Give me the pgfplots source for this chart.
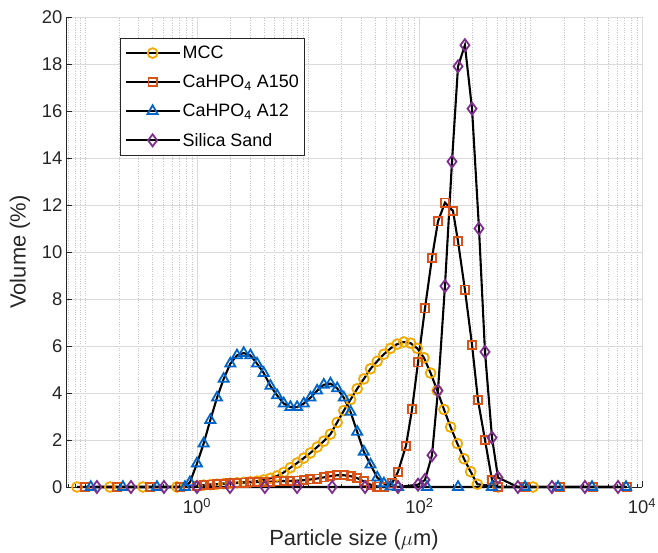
\documentclass[border=0pt]{standalone}
\usepackage{pgfplots}
\pgfplotsset{compat=1.18}
\usepackage{fontspec}
\setmainfont{Liberation Sans}
\definecolor{mcc}{RGB}{242,169,0}
\definecolor{aone}{RGB}{217,83,25}
\definecolor{atwo}{RGB}{0,100,200}
\definecolor{sand}{RGB}{126,47,142}
\definecolor{axgray}{RGB}{38,38,38}
\begin{document}
\begin{tikzpicture}
\useasboundingbox (0,0) rectangle (658bp,553bp);
\begin{axis}[
  at={(66bp,66bp)}, anchor=south west,
  scale only axis, width=576bp, height=470bp,
  xmode=log, xmin=0.0665, xmax=10000, ymin=0, ymax=20,
  ytick={0,2,...,20},
  xtick={1,100,10000},
  xticklabels={10\textsuperscript{0},10\textsuperscript{2},10\textsuperscript{4}},
  minor xtick={0.07,0.08,0.09,0.1,0.2,0.3,0.4,0.5,0.6,0.7,0.8,0.9,2,3,4,5,6,7,8,9,10,20,30,40,50,60,70,80,90,200,300,400,500,600,700,800,900,1000,2000,3000,4000,5000,6000,7000,8000,9000},
  xmajorgrids, xminorgrids, ymajorgrids,
  major grid style={draw=black!14, line width=0.6bp},
  minor grid style={draw=black!22, dotted, line width=0.6bp},
  axis lines*=left, axis line style={draw=axgray, line width=0.7bp, -},
  tick style={draw=axgray, line width=0.7bp},
  major tick length=6bp, minor tick length=3bp,
  tick align=inside,
  clip=false,
  /pgf/number format/assume math mode=true,
  tick label style={font=\fontsize{18.5}{19}\selectfont, text=axgray},
  xticklabel style={yshift=-8bp},
  xlabel={Particle size ($\mu$m)}, ylabel={Volume (\%)},
  label style={font=\fontsize{22}{23}\selectfont, text=axgray},
  xlabel style={at={(axis description cs:0.5,-0.1128)}, anchor=center},
  ylabel style={at={(axis description cs:-0.0799,0.5)}, anchor=center, rotate=0},
  legend style={at={(axis description cs:0.094,0.956)}, anchor=north west, draw=axgray, line width=0.8bp, fill=white, font=\fontsize{18}{19}\selectfont, row sep=11bp, inner xsep=4bp, inner ysep=6bp, cells={anchor=west}},
  legend image code/.code={\draw[#1, mark repeat=2, mark phase=2] plot coordinates {(0bp,0bp) (27bp,0bp) (54bp,0bp)};},
]
\addplot[black, line width=2.1bp, mark=o, mark size=4.9bp, mark options={solid, draw=mcc, line width=1.8bp, fill=none}] coordinates {
(0.0834,0) (0.165,0) (0.327,0) (0.661,0)
(1.000,0.05) (1.148,0.08) (1.318,0.10) (1.514,0.12) (1.738,0.14) (1.995,0.16) (2.291,0.18) (2.630,0.20) (3.020,0.22) (3.467,0.25)
(3.981,0.30) (4.571,0.37) (5.248,0.47) (6.026,0.62) (6.918,0.82) (7.943,1.02) (9.120,1.23) (10.47,1.45) (12.02,1.70) (13.80,1.95)
(15.85,2.25) (18.20,2.75) (20.89,3.25) (23.99,3.72) (27.54,4.18) (31.62,4.60) (36.31,5.03) (41.69,5.35) (47.86,5.65) (54.95,5.90)
(63.10,6.08) (72.44,6.17) (83.18,6.12) (95.50,5.90) (109.6,5.50) (125.9,4.85) (144.5,4.10) (166.0,3.30) (190.5,2.55) (218.8,1.85)
(251.2,1.20) (288.4,0.65) (331.1,0.12) (508,0) (1047,0)
};
\addlegendentry{MCC}
\addplot[black, line width=2.1bp, mark=square, mark size=4.1bp, mark options={solid, draw=aone, line width=1.8bp, fill=none}] coordinates {
(0.0985,0) (0.191,0) (0.378,0) (0.703,0)
(1.000,0.05) (1.148,0.08) (1.318,0.10) (1.514,0.12) (1.738,0.14) (1.995,0.16) (2.291,0.18) (2.630,0.19) (3.020,0.20) (3.467,0.21)
(3.981,0.22) (4.571,0.23) (5.248,0.24) (6.026,0.25) (6.918,0.26) (7.943,0.27) (9.120,0.29) (10.47,0.32) (12.02,0.36) (13.80,0.41)
(15.85,0.46) (18.20,0.50) (20.89,0.50) (23.99,0.46) (27.54,0.38) (31.62,0.24) (36.31,0.10) (41.69,0.02) (47.86,0)
(56.6,0.15) (64.1,0.65) (75.6,1.75) (85.7,3.3) (97,5.3) (112,7.6) (129.5,9.75) (146.6,11.3) (169.4,12.1) (200,11.75)
(222,10.45) (256,8.4) (296.6,6.05) (335.5,3.7) (388,2.0) (448.6,0.3) (508,0) (888,0) (1832,0) (3628,0) (7330,0)
};
\addlegendentry{CaHPO\textsubscript{4} A150}
\addplot[black, line width=2.1bp, mark=triangle, mark size=5.8bp, mark options={solid, draw=atwo, line width=1.8bp, fill=none}] coordinates {
(0.111,0) (0.216,0) (0.437,0) (0.78,0) (0.865,0.2)
(1.000,1.00) (1.148,1.85) (1.318,2.85) (1.514,3.80) (1.738,4.60) (1.995,5.25) (2.291,5.60) (2.630,5.70) (3.020,5.60) (3.467,5.25)
(3.981,4.85) (4.571,4.30) (5.248,3.90) (6.026,3.55) (6.918,3.40) (7.943,3.40) (9.120,3.55) (10.47,3.80) (12.02,4.10) (13.80,4.35)
(15.85,4.40) (18.20,4.20) (20.89,3.80) (23.99,3.20) (27.54,2.35) (31.62,1.50) (36.31,0.95) (41.69,0.40) (47.86,0.15) (54.95,0.02)
(64.1,0) (116.8,0) (222,0) (448.6,0) (888,0) (1758,0) (3553,0) (7180,0)
};
\addlegendentry{CaHPO\textsubscript{4} A12}
\addplot[black, line width=2.1bp, mark=diamond, mark size=6bp, mark options={solid, draw=sand, line width=1.8bp, fill=none}] coordinates {
(0.126,0) (0.255,0) (0.505,0) (1.0,0) (1.98,0) (4.08,0) (7.93,0) (16.4,0) (32.4,0) (64.1,0)
(97,0.1) (112,0.3) (129.5,1.35) (146.6,4.1) (169.4,8.55) (196,13.85) (222,17.9) (256,18.8) (296.6,16.1) (342.6,11.0)
(388,5.75) (448.6,2.1) (508,0.4) (767,0) (1552,0) (3073,0) (6085,0)
};
\addlegendentry{Silica Sand}
\end{axis}
\end{tikzpicture}
\end{document}
